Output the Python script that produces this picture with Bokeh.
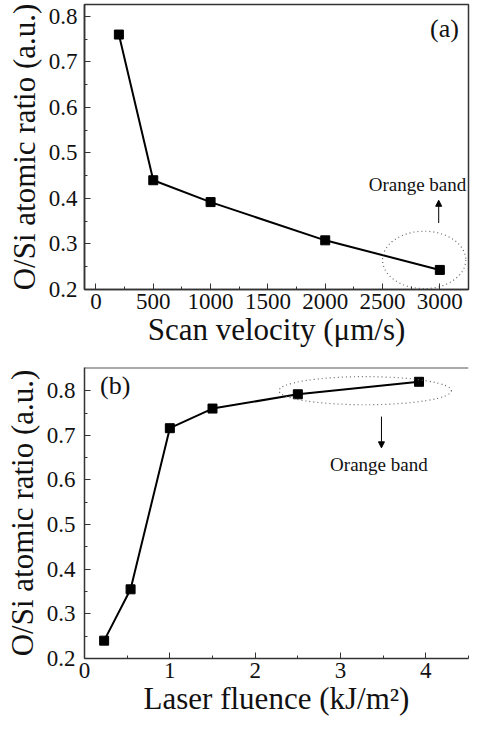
from bokeh.plotting import figure
from bokeh.layouts import column
from bokeh.models import (FixedTicker, Range1d, Arrow, NormalHead, Label, Span)
from bokeh.embed import file_html
from bokeh.resources import INLINE

# ---- data ----
scan_velocity = [200, 500, 1000, 2000, 3000]
ratio_a = [0.76, 0.44, 0.392, 0.308, 0.243]

fluence = [0.23, 0.54, 1.0, 1.5, 2.5, 3.92]
ratio_b = [0.24, 0.355, 0.716, 0.76, 0.792, 0.82]

xticks_a = [0, 500, 1000, 1500, 2000, 2500, 3000]
xticks_b = [0, 1, 2, 3, 4]
yticks = [0.2, 0.3, 0.4, 0.5, 0.6, 0.7, 0.8]

FONT = "Liberation Serif"
W = 471


def style(p, xmajor, xminor, ymajor, yminor, ystand):
    for ax in (p.xaxis[0], p.yaxis[0]):
        ax.major_label_text_font = FONT
        ax.major_label_text_font_size = "23px"
        ax.major_label_text_color = "#111111"
        ax.axis_label_text_font = FONT
        ax.axis_label_text_font_size = "31px"
        ax.axis_label_text_font_style = "normal"
        ax.axis_label_text_color = "#111111"
        ax.axis_line_color = "#333333"
        ax.axis_line_width = 1.5
        ax.major_tick_line_color = "#333333"
        ax.minor_tick_line_color = "#333333"
        ax.major_tick_in = 6
        ax.major_tick_out = 0
        ax.minor_tick_in = 3
        ax.minor_tick_out = 0
    p.xaxis[0].ticker = FixedTicker(ticks=xmajor, minor_ticks=xminor)
    p.yaxis[0].ticker = FixedTicker(ticks=ymajor, minor_ticks=yminor)
    p.xaxis[0].major_label_standoff = 4
    p.yaxis[0].major_label_standoff = ystand
    p.xaxis[0].axis_label_standoff = 0
    p.yaxis[0].axis_label_standoff = 4
    p.xgrid.visible = False
    p.ygrid.visible = False
    p.background_fill_color = "white"
    p.border_fill_color = "white"


yminor = [0.25, 0.35, 0.45, 0.55, 0.65, 0.75]

# ---- panel (a) ----
pa = figure(width=W, height=352, output_backend="svg", toolbar_location=None,
            x_range=Range1d(-100, 3250), y_range=Range1d(0.2, 0.826),
            min_border_left=82, min_border_right=3, min_border_top=4,
            min_border_bottom=63)
pa.outline_line_color = "#333333"
pa.outline_line_width = 1.5
style(pa, xticks_a, [250, 750, 1250, 1750, 2250, 2750, 3250], yticks, yminor, 7)
pa.xaxis[0].axis_label = "Scan velocity (\u03bcm/s)"
pa.yaxis[0].axis_label = "O/Si atomic ratio (a.u.)"
pa.line(scan_velocity, ratio_a, line_color="black", line_width=2)
pa.scatter(scan_velocity, ratio_a, marker="square", size=9, color="black")
pa.ellipse(x=[2863], y=[0.265], width=[726], height=[0.126],
           fill_color=None, line_color="#666666", line_dash="1 3", line_width=1.2)
pa.add_layout(Arrow(end=NormalHead(size=6, fill_color="black", line_color="black"),
                    x_start=2990, y_start=0.346, x_end=2990, y_end=0.396,
                    line_color="black", line_width=1))
pa.add_layout(Label(x=2805, y=0.43, text="Orange band", text_font=FONT,
                    text_font_size="19px", text_align="center",
                    text_baseline="middle", text_color="#111111"))
pa.add_layout(Label(x=3040, y=0.774, text="(a)", text_font=FONT,
                    text_font_size="26px", text_align="center",
                    text_baseline="middle", text_color="#111111"))

# ---- panel (b) ----
pb = figure(width=W, height=369, output_backend="svg", toolbar_location=None,
            x_range=Range1d(0, 4.5), y_range=Range1d(0.2, 0.852),
            min_border_left=84, min_border_right=0, min_border_top=15,
            min_border_bottom=63)
pb.outline_line_color = None
style(pb, xticks_b, [0.5, 1.5, 2.5, 3.5, 4.5], yticks, yminor, 9)
pb.add_layout(Span(location=0.852, dimension="width", line_color="#555555",
                   line_width=2))
pb.xaxis[0].axis_label = "Laser fluence (kJ/m\u00b2)"
pb.yaxis[0].axis_label = "O/Si atomic ratio (a.u.)"
pb.line(fluence, ratio_b, line_color="black", line_width=2)
pb.scatter(fluence, ratio_b, marker="square", size=9, color="black")
pb.ellipse(x=[3.29], y=[0.80], width=[2.02], height=[0.063],
           fill_color=None, line_color="#666666", line_dash="1 3", line_width=1.2)
pb.add_layout(Arrow(end=NormalHead(size=6, fill_color="black", line_color="black"),
                    x_start=3.48, y_start=0.742, x_end=3.48, y_end=0.672,
                    line_color="black", line_width=1))
pb.add_layout(Label(x=3.45, y=0.634, text="Orange band", text_font=FONT,
                    text_font_size="19px", text_align="center",
                    text_baseline="middle", text_color="#111111"))
pb.add_layout(Label(x=0.36, y=0.811, text="(b)", text_font=FONT,
                    text_font_size="26px", text_align="center",
                    text_baseline="middle", text_color="#111111"))

layout = column(pa, pb, spacing=0)
open("out.html", "w").write(file_html(layout, INLINE))
